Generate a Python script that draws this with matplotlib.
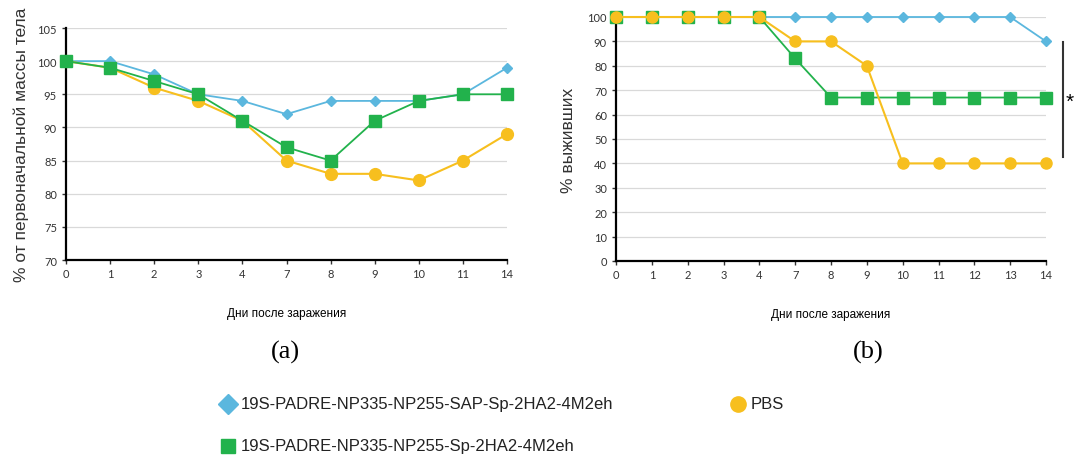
import matplotlib
matplotlib.use("Agg")
import matplotlib.pyplot as plt
from matplotlib.lines import Line2D

days_a = ["0", "1", "2", "3", "4", "7", "8", "9", "10", "11", "14"]
sap_a = [100, 100, 98, 95, 94, 92, 94, 94, 94, 95, 99]
sp_a = [100, 99, 97, 95, 91, 87, 85, 91, 94, 95, 95]
pbs_a = [100, 99, 96, 94, 91, 85, 83, 83, 82, 85, 89]

days_b = ["0", "1", "2", "3", "4", "7", "8", "9", "10", "11", "12", "13", "14"]
sap_b = [100, 100, 100, 100, 100, 100, 100, 100, 100, 100, 100, 100, 90]
sp_b = [100, 100, 100, 100, 100, 83, 67, 67, 67, 67, 67, 67, 67]
pbs_b = [100, 100, 100, 100, 100, 90, 90, 80, 40, 40, 40, 40, 40]

labels = ["19S-PADRE-NP335-NP255-SAP-Sp-2HA2-4M2eh",
          "19S-PADRE-NP335-NP255-Sp-2HA2-4M2eh", "PBS"]

BLUE = "#5bb7de"
GREEN = "#22b24c"
YELLOW = "#f7bf1e"
TICKFONT = "Lato"

fig = plt.figure(figsize=(10.75, 4.6), dpi=100)

def style(ax, ylim, yticks):
    ax.set_ylim(*ylim)
    ax.set_yticks(yticks)
    ax.grid(axis="y", color="#d9d9d9", lw=0.9)
    ax.set_axisbelow(True)
    for s in ["top", "right"]:
        ax.spines[s].set_visible(False)
    for s in ["left", "bottom"]:
        ax.spines[s].set_color("black")
        ax.spines[s].set_linewidth(1.6)
    ax.tick_params(axis="both", labelsize=8, colors="#333333", length=3, width=1)
    ax.tick_params(axis="x", pad=3)
    for lab in ax.get_xticklabels() + ax.get_yticklabels():
        lab.set_family(TICKFONT)

# Panel (a)
ax1 = fig.add_axes([66/1075, 1-261/460, 441/1075, 232/460])
x1 = list(range(len(days_a)))
ax1.plot(x1, sap_a, color=BLUE, marker="D", ms=5.5, lw=1.3, zorder=3, clip_on=False)
ax1.plot(x1, pbs_a, color=YELLOW, marker="o", ms=8.5, lw=1.5, zorder=4, clip_on=False)
ax1.plot(x1, sp_a, color=GREEN, marker="s", ms=8, lw=1.3, zorder=5, clip_on=False)
ax1.set_xticks(x1)
ax1.set_xticklabels(days_a)
ax1.set_xlim(0, len(days_a) - 1)
style(ax1, (70, 105), range(70, 106, 5))
ax1.set_ylabel("% от первоначальной массы тела", fontsize=12.5,
               family="Liberation Sans", color="#333333", labelpad=6)
ax1.set_xlabel("Дни после заражения", fontsize=8.5, family="Liberation Sans",
               labelpad=20)
fig.text(285/1075, 1-352/460, "(a)", fontsize=19, family="Liberation Serif",
         ha="center", va="center")

# Panel (b)
ax2 = fig.add_axes([616/1075, 1-262/460, 430/1075, 244/460])
x2 = list(range(len(days_b)))
ax2.plot(x2, sap_b, color=BLUE, marker="D", ms=5, lw=1.3, zorder=3, clip_on=False)
ax2.plot(x2, sp_b, color=GREEN, marker="s", ms=8, lw=1.3, zorder=4, clip_on=False)
ax2.plot(x2, pbs_b, color=YELLOW, marker="o", ms=8, lw=1.5, zorder=5, clip_on=False)
ax2.set_xticks(x2)
ax2.set_xticklabels(days_b)
ax2.set_xlim(0, len(days_b) - 1)
style(ax2, (0, 100), range(0, 101, 10))
ax2.set_ylabel("% выживших", fontsize=12.5, family="Liberation Sans",
               color="#333333", labelpad=8)
ax2.set_xlabel("Дни после заражения", fontsize=8.5, family="Liberation Sans",
               labelpad=20)
fig.text(868/1075, 1-352/460, "(b)", fontsize=19, family="Liberation Serif",
         ha="center", va="center")

# significance bar
fig.add_artist(Line2D([1063/1075, 1063/1075], [1-43/460, 1-158/460],
                      color="#333333", lw=1.5))
fig.text(1066/1075, 1-102/460, "*", fontsize=15, ha="left", va="center",
         family="Liberation Sans")

# Legend
def legend_item(x, y, marker, color, ms, text):
    fig.add_artist(Line2D([x/1075], [1-y/460], marker=marker, color=color,
                          ms=ms, lw=0))
    fig.text((x+13)/1075, 1-y/460, text, fontsize=12, family="Liberation Sans",
             ha="left", va="center", color="#222222")

legend_item(228, 405, "D", BLUE, 10, labels[0])
legend_item(228, 447, "s", GREEN, 10.5, labels[1])
legend_item(738, 405, "o", YELLOW, 11, labels[2])

fig.savefig("out.png", dpi=100, facecolor="white")
